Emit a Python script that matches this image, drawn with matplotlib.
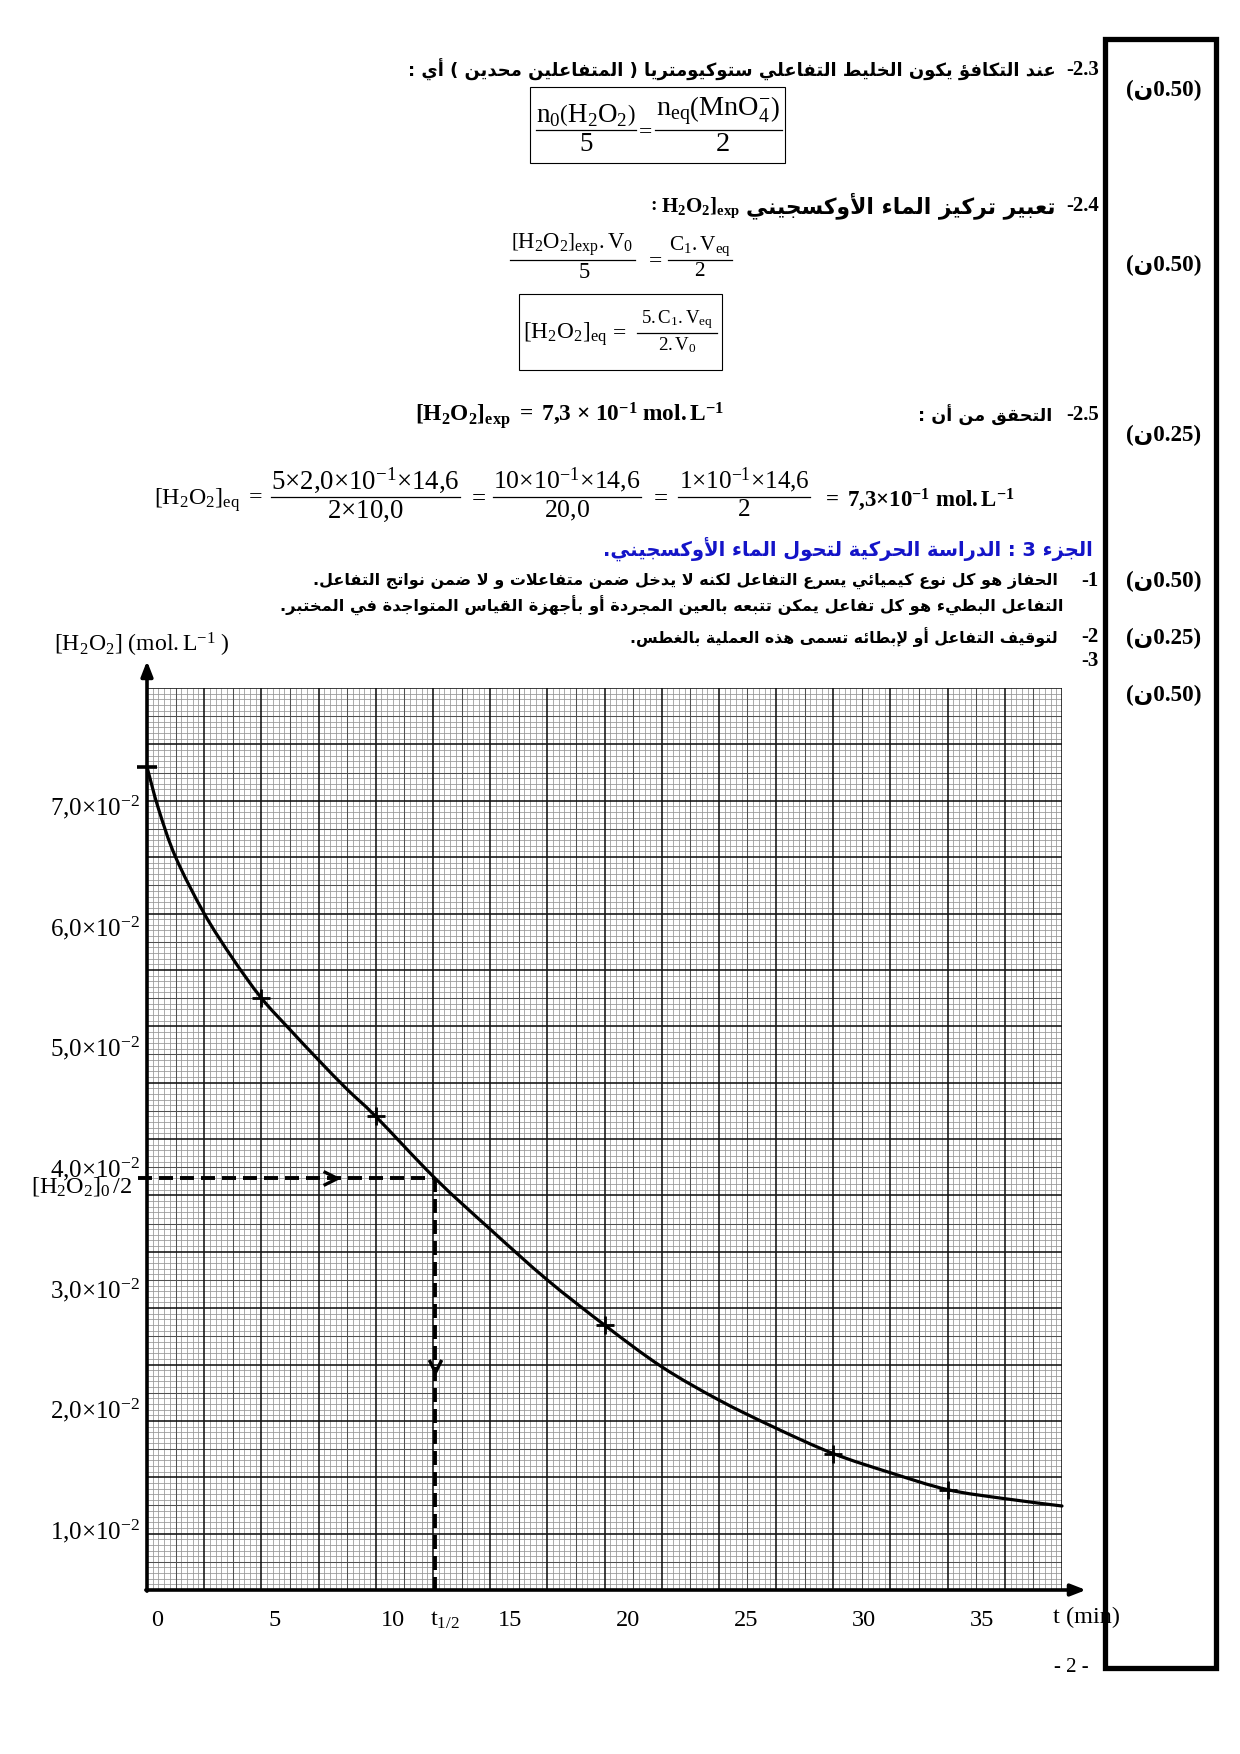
import re
import numpy as np
import matplotlib
matplotlib.use('Agg')
import matplotlib.pyplot as plt
from matplotlib.lines import Line2D
from matplotlib.patches import Rectangle, PathPatch
from matplotlib.path import Path

# ---------------- data ----------------
t_marks = [0, 5, 10, 20, 30, 35]                       # min
c_marks = [7.30, 5.25, 4.20, 2.35, 1.21, 0.89]         # x 10^-2 mol/L
t_curve = [0, 0.5, 1.25, 2.5, 3.75, 5, 6.25, 7.5, 8.75, 10, 12.6, 15, 17.5,
           20, 22.5, 25, 27.5, 30, 32.5, 35, 37.5, 40]
c_curve = [7.30, 6.93, 6.50, 6.00, 5.60, 5.25, 4.97, 4.70, 4.44, 4.20, 3.65,
           3.20, 2.75, 2.35, 1.98, 1.685, 1.435, 1.21, 1.04, 0.89, 0.81, 0.745]
c_half = 3.65
t_half = 12.6
x_ticks = [0, 5, 10, 15, 20, 25, 30, 35]
y_ticks = [1, 2, 3, 4, 5, 6, 7]
y_tick_labels = ["1,0", "2,0", "3,0", "4,0", "5,0", "6,0", "7,0"]
scores = ["0.50", "0.50", "0.25", "0.50", "0.25", "0.50"]

# ---------------- fonts ----------------
plt.rcParams['font.family'] = ['Liberation Serif', 'DejaVu Sans']
plt.rcParams['mathtext.fontset'] = 'custom'
plt.rcParams['mathtext.rm'] = 'Liberation Serif'
plt.rcParams['mathtext.it'] = 'Liberation Serif:italic'
plt.rcParams['mathtext.bf'] = 'Liberation Serif:bold'
plt.rcParams['mathtext.default'] = 'rm'

# ---------------- arabic shaping ----------------
_AR = {
    '\u0621': (0xFE80, 1), '\u0622': (0xFE81, 2), '\u0623': (0xFE83, 2),
    '\u0624': (0xFE85, 2), '\u0625': (0xFE87, 2), '\u0626': (0xFE89, 4),
    '\u0627': (0xFE8D, 2), '\u0628': (0xFE8F, 4), '\u0629': (0xFE93, 2),
    '\u062A': (0xFE95, 4), '\u062B': (0xFE99, 4), '\u062C': (0xFE9D, 4),
    '\u062D': (0xFEA1, 4), '\u062E': (0xFEA5, 4), '\u062F': (0xFEA9, 2),
    '\u0630': (0xFEAB, 2), '\u0631': (0xFEAD, 2), '\u0632': (0xFEAF, 2),
    '\u0633': (0xFEB1, 4), '\u0634': (0xFEB5, 4), '\u0635': (0xFEB9, 4),
    '\u0636': (0xFEBD, 4), '\u0637': (0xFEC1, 4), '\u0638': (0xFEC5, 4),
    '\u0639': (0xFEC9, 4), '\u063A': (0xFECD, 4), '\u0641': (0xFED1, 4),
    '\u0642': (0xFED5, 4), '\u0643': (0xFED9, 4), '\u0644': (0xFEDD, 4),
    '\u0645': (0xFEE1, 4), '\u0646': (0xFEE5, 4), '\u0647': (0xFEE9, 4),
    '\u0648': (0xFEED, 2), '\u0649': (0xFEEF, 2), '\u064A': (0xFEF1, 4),
}
_LAMALEF = {'\u0622': 0xFEF5, '\u0623': 0xFEF7, '\u0625': 0xFEF9, '\u0627': 0xFEFB}


def shape(s):
    out = []
    prev = False
    i = 0
    n = len(s)
    while i < n:
        c = s[i]
        if c not in _AR:
            out.append(c)
            prev = False
            i += 1
            continue
        base, nf = _AR[c]
        if c == '\u0644' and i + 1 < n and s[i + 1] in _LAMALEF:
            out.append(chr(_LAMALEF[s[i + 1]] + (1 if prev else 0)))
            prev = False
            i += 2
            continue
        nxt = s[i + 1] if i + 1 < n else ''
        nxt_join = nxt in _AR and _AR[nxt][1] >= 2
        if nf == 1:
            out.append(chr(base))
            prev = False
        elif nf == 2:
            out.append(chr(base + (1 if prev else 0)))
            prev = False
        else:
            if prev and nxt_join:
                f = 3
            elif prev:
                f = 1
            elif nxt_join:
                f = 2
            else:
                f = 0
            out.append(chr(base + f))
            prev = nxt_join
        i += 1
    return ''.join(out)


def vis(s):
    t = shape(s)[::-1]
    t = t.translate(str.maketrans('()[]', ')(]['))
    t = re.sub(r'[0-9A-Za-z][0-9A-Za-z.,]*', lambda m: m.group(0)[::-1], t)
    return t


# ---------------- figure ----------------
W, H = 1240, 1754
fig = plt.figure(figsize=(W / 100, H / 100), dpi=100)
fig.patch.set_facecolor('white')
renderer = fig.canvas.get_renderer()


def F(x, y):
    return (x / W, 1 - y / H)


def txt(x, y, s, size=14, ha='left', va='center', width=None, **kw):
    t = fig.text(*F(x, y), s, fontsize=size, ha=ha, va=va, **kw)
    if width is not None:
        bb = t.get_window_extent(renderer=renderer)
        t.set_fontsize(size * width / bb.width)
    return t


def hline(x0, x1, y, lw=1.0):
    fig.add_artist(Line2D([x0 / W, x1 / W], [1 - y / H, 1 - y / H], lw=lw,
                          color='black', transform=fig.transFigure))


def box(x0, y0, x1, y1, lw=0.8):
    fig.add_artist(Rectangle(F(x0, y1), (x1 - x0) / W, (y1 - y0) / H, fill=False,
                             lw=lw, ec='black', transform=fig.transFigure))


def frac(xc, ybar, num, den, bar_w, num_w, fs=17, gap=2, den_dx=0):
    hline(xc - bar_w / 2, xc + bar_w / 2, ybar, 0.9)
    t = txt(xc, ybar - gap, num, fs, ha='center', va='bottom', width=num_w)
    txt(xc + den_dx, ybar + gap, den, t.get_fontsize(), ha='center', va='top')


AR = dict(family=['DejaVu Sans'], weight='bold')


def number(y, s):
    txt(1099, y, '-' + s, 15, ha='right', weight='bold')


# ---- right score column ----
box(1105, 39, 1216, 1668, lw=3.8)
for yy, sc in zip([90, 265, 435, 581, 638, 695], scores):
    txt(1164, yy, '(\uFEE5' + sc + ')', 14, ha='center', weight='bold',
        family=['Liberation Serif', 'DejaVu Sans'], width=76)

# ---- 2.3 ----
number(70, '2.3')
txt(1056, 70, vis("عند التكافؤ يكون الخليط التفاعلي ستوكيومتريا ( المتفاعلين محدين ) أي :"),
    12, ha='right', width=643, **AR)
box(530, 87, 785, 163)
frac(586, 130, r"$\mathrm{n_0\left(H_2O_2\right)}$", r"$\mathrm{5}$", 100, 100)
txt(645, 133, "=", 17, ha='center')
frac(718, 130, r"$\mathrm{n_{eq}\left(MnO_4^{-}\right)}$", r"$\mathrm{2}$", 127, 124, den_dx=4)

# ---- 2.4 ----
number(206, '2.4')
txt(1056, 206, vis("تعبير تركيز الماء الأوكسجيني"), 12, ha='right', width=310, **AR)
hx = txt(740, 208, r"$\mathbf{H_2O_2]_{exp}}$", 15, ha='right')
bbh = hx.get_window_extent(renderer=renderer)
txt(bbh.x0 - 4, 206, ":", 14, ha='right', weight='bold')
frac(572, 260, r"$\mathrm{\left[H_2O_2\right]_{exp}.V_0}$", r"$\mathrm{5}$", 125, 122, den_dx=12)
txt(656, 262, "=", 17, ha='center')
frac(700, 260, r"$\mathrm{C_1.V_{eq}}$", r"$\mathrm{2}$", 64, 62)
box(519, 294, 722, 370)
txt(523, 334, r"$\mathrm{[H_2O_2]_{eq}}$", 16, ha='left', width=84)
txt(620, 334, "=", 17, ha='center')
frac(677, 333, r"$\mathrm{5.C_1.V_{eq}}$", r"$\mathrm{2.V_0}$", 80, 72)

# ---- 2.5 ----
number(415, '2.5')
txt(1052, 415, vis("التحقق من أن :"), 12, ha='right', width=133, **AR)
txt(415, 415, r"$\mathbf{[H_2O_2]_{exp}\ =\ 7{,}3\ {\times}\ 10^{-1}\ mol.L^{-1}}$", 16,
    ha='left', width=309)
txt(154, 500, r"$\mathrm{[H_2O_2]_{eq}\ =}$", 16, ha='left', width=109)
frac(365, 497, r"$\mathrm{5{\times}2{,}0{\times}10^{-1}{\times}14{,}6}$",
     r"$\mathrm{2{\times}10{,}0}$", 189, 189)
txt(479, 499, "=", 18, ha='center')
frac(567, 497, r"$\mathrm{10{\times}10^{-1}{\times}14{,}6}$", r"$\mathrm{20{,}0}$", 148, 148)
txt(661, 499, "=", 18, ha='center')
frac(744, 497, r"$\mathrm{1{\times}10^{-1}{\times}14{,}6}$", r"$\mathrm{2}$", 131, 131)
txt(822, 500, r"$\mathbf{=\ 7{,}3{\times}10^{-1}\ mol.L^{-1}}$", 16, ha='left', width=193)

# ---- part 3 ----
txt(1093, 549, vis("الجزء 3 : الدراسة الحركية لتحول الماء الأوكسجيني."), 14, ha='right',
    width=493, color='#1414c8', **AR)
number(581, '1')
txt(1058, 581, vis("الحفاز هو كل نوع كيميائي يسرع التفاعل لكنه لا يدخل ضمن متفاعلات و لا ضمن نواتج التفاعل."),
    11, ha='right', width=741, **AR)
txt(1063, 606, vis("التفاعل البطيء هو كل تفاعل يمكن تتبعه بالعين المجردة أو بأجهزة القياس المتواجدة في المختبر."),
    11, ha='right', width=774, **AR)
number(637, '2')
txt(1058, 637, vis("لتوقيف التفاعل أو لإبطائه تسمى هذه العملية بالغطس."), 11, ha='right',
    width=425, **AR)
number(661, '3')

txt(1071, 1667, "- 2 -", 15, ha='center')

# ---------------- chart ----------------
x0p, x1p, y0p, y1p = 147, 1062, 1590, 688
ax = fig.add_axes([x0p / W, 1 - y0p / H, (x1p - x0p) / W, (y0p - y1p) / H])
ax.set_xlim(0, 40)
ax.set_ylim(0, 8)
ax.set_axis_off()

xs = np.arange(161) * 0.25
ys = np.arange(161) * 0.05
minor_x = [v for i, v in enumerate(xs) if i % 5]
med_x = [v for i, v in enumerate(xs) if i % 5 == 0 and i % 10]
maj_x = [v for i, v in enumerate(xs) if i % 10 == 0]
minor_y = [v for i, v in enumerate(ys) if i % 5]
med_y = [v for i, v in enumerate(ys) if i % 5 == 0 and i % 10]
maj_y = [v for i, v in enumerate(ys) if i % 10 == 0]
ax.vlines(minor_x, 0, 8, color='#959595', lw=0.55, zorder=1)
ax.hlines(minor_y, 0, 40, color='#959595', lw=0.55, zorder=1)
ax.vlines(med_x, 0, 8, color='#505050', lw=0.75, zorder=2)
ax.hlines(med_y, 0, 40, color='#505050', lw=0.75, zorder=2)
ax.vlines(maj_x, 0, 8, color='#111111', lw=1.15, zorder=3)
ax.hlines(maj_y, 0, 40, color='#111111', lw=1.15, zorder=3)

# axes with arrows
ax.annotate('', xy=(0, 8.24), xytext=(0, -0.01), annotation_clip=False,
            arrowprops=dict(arrowstyle='-|>,head_length=0.9,head_width=0.35', color='black',
                            lw=2.6, shrinkA=0, shrinkB=0), zorder=8)
ax.annotate('', xy=(41.05, 0), xytext=(-0.05, 0), annotation_clip=False,
            arrowprops=dict(arrowstyle='-|>,head_length=0.9,head_width=0.35', color='black',
                            lw=2.6, shrinkA=0, shrinkB=0), zorder=8)

# curve (smooth path through the read points) and measured points
P = np.column_stack([t_curve, c_curve])
verts = [P[0]]
codes = [Path.MOVETO]
n = len(P)
for i in range(n - 1):
    p0 = P[i - 1] if i > 0 else P[i]
    p1, p2 = P[i], P[i + 1]
    p3 = P[i + 2] if i + 2 < n else P[i + 1]
    verts += [p1 + (p2 - p0) / 6.0, p2 - (p3 - p1) / 6.0, p2]
    codes += [Path.CURVE4] * 3
ax.add_patch(PathPatch(Path(verts, codes), fill=False, lw=2.3, ec='black', zorder=6,
                       clip_on=False, capstyle='round', joinstyle='round'))
ax.plot(t_marks[1:], c_marks[1:], linestyle='none', marker='+', ms=13, mew=2.0,
        color='black', zorder=7)
ax.plot([t_marks[0]], [c_marks[0]], linestyle='none', marker='_', ms=15, mew=2.6,
        color='black', zorder=9, clip_on=False)

# half-life construction
dash = (0, (3.6, 1.8))
ax.plot([-0.4, t_half], [c_half, c_half], color='black', lw=2.8, ls=dash, zorder=6,
        clip_on=False)
ax.plot([t_half, t_half], [c_half, 0], color='black', lw=2.8, ls=dash, zorder=6)
chev_r = Path([(-1, 0.5), (0, 0), (-1, -0.5)], [Path.MOVETO, Path.LINETO, Path.LINETO])
chev_d = Path([(-0.5, 1), (0, 0), (0.5, 1)], [Path.MOVETO, Path.LINETO, Path.LINETO])
ax.plot([8.3], [c_half], marker=chev_r, ms=20, mfc='none', mec='black', mew=2.4,
        linestyle='none', zorder=7)
ax.plot([t_half], [1.93], marker=chev_d, ms=18, mfc='none', mec='black', mew=2.4,
        linestyle='none', zorder=7)

# tick labels (placed as on the printed sheet)
for v, lab in zip(y_ticks, y_tick_labels):
    ax.text(-0.3, 0.52 + (v - 1) * 1.07, r"$\mathrm{" + lab.replace(',', '{,}') +
            r"{\times}10^{-2}}$", ha='right', va='center', fontsize=18)
for v in x_ticks:
    ax.text(0.44 + v * 1.03, -0.27, str(v), ha='center', va='center', fontsize=17.5)
ax.text(13.03, -0.27, r"$\mathrm{t_{1/2}}$", ha='center', va='center', fontsize=17.5)
ax.text(39.6, -0.24, "t (min)", ha='left', va='center', fontsize=17.5)
ax.text(-0.62, 3.58, r"$\mathrm{[H_2O_2]_0\,/2}$", ha='right', va='center', fontsize=17.5)
txt(54, 645, r"$\mathrm{[H_2O_2]\ (mol.L^{-1}\ )}$", 17, ha='left', width=176)

fig.savefig('out.png', dpi=100, facecolor='white')
